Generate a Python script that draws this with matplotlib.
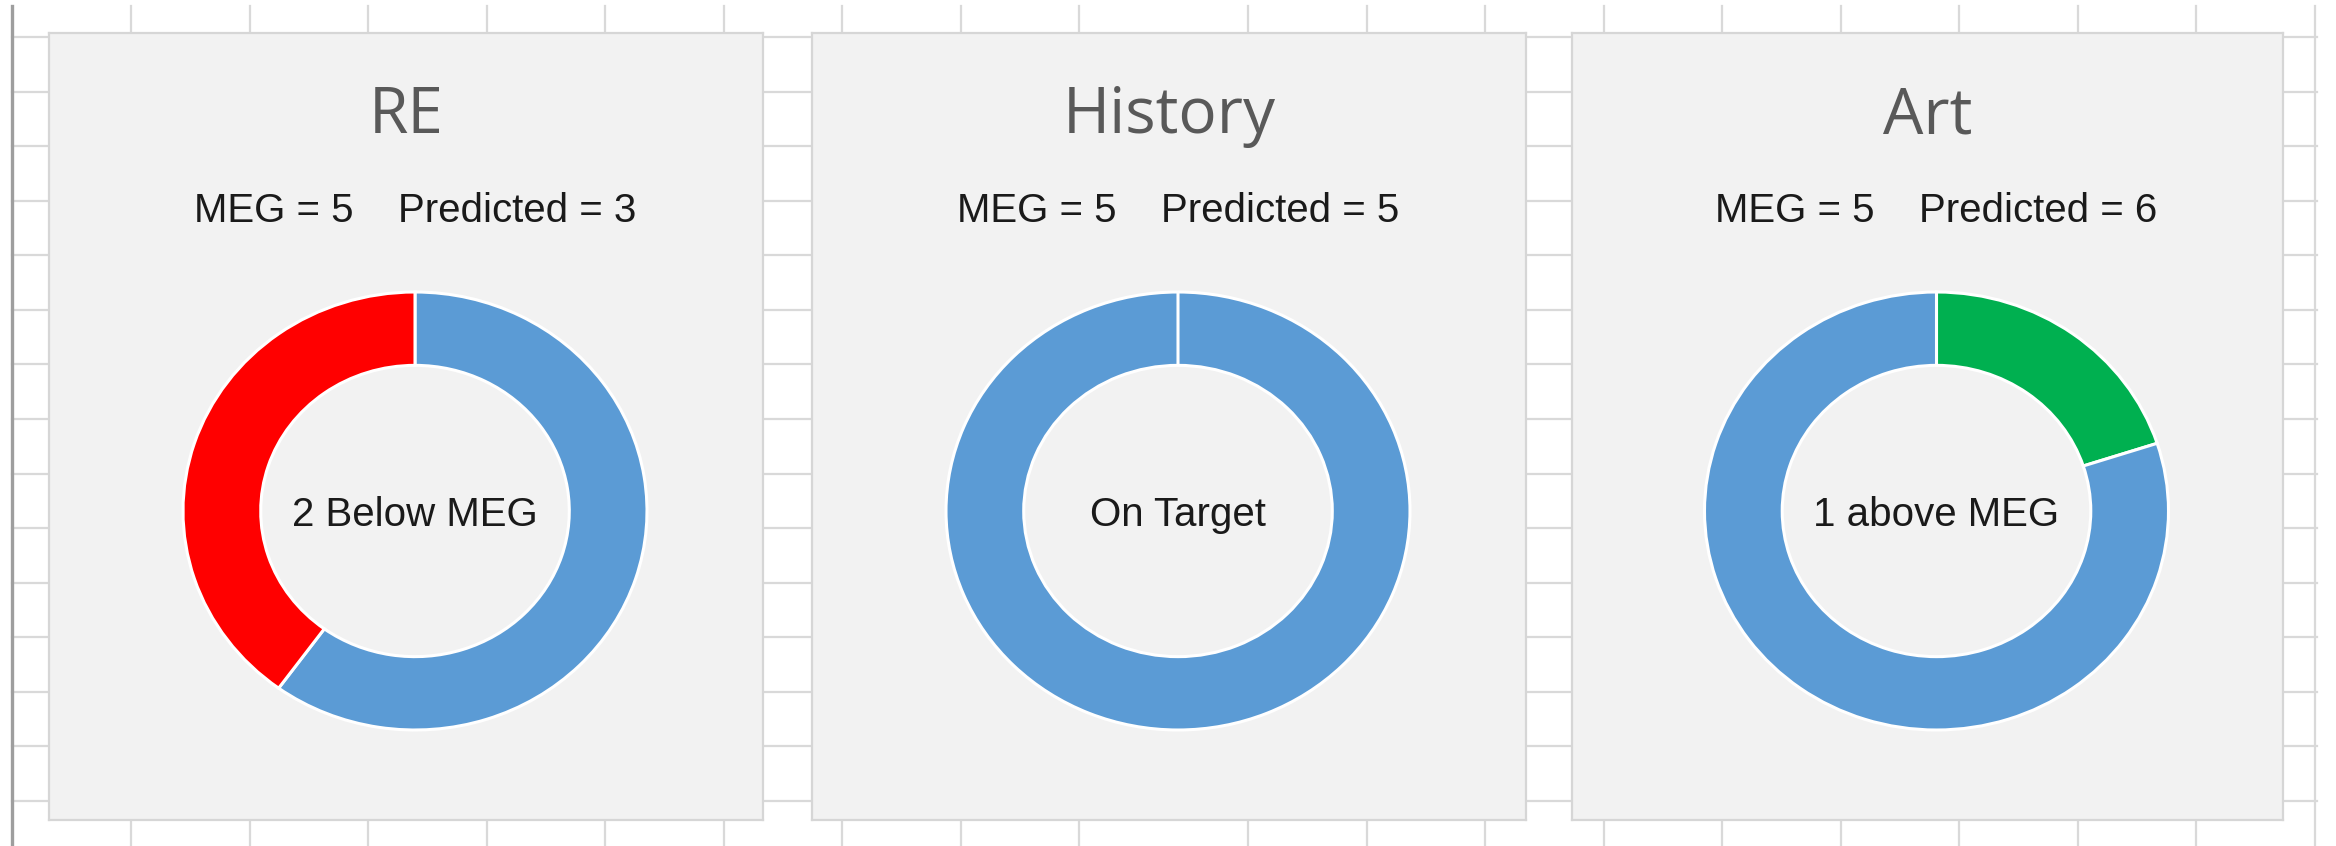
import matplotlib.pyplot as plt

# data
subjects = ['RE', 'History', 'Art']
meg = [5, 5, 5]
predicted = [3, 5, 6]
ring_values = [[3, 2], [5, 0], [1, 4]]
ring_colors = [['#5B9BD5', '#FF0000'], ['#5B9BD5', '#FF0000'], ['#00B050', '#5B9BD5']]
center_labels = ['2 Below MEG', 'On Target', '1 above MEG']

W, H = 2336, 846
fig = plt.figure(figsize=(W / 100, H / 100), dpi=100)
fig.patch.set_facecolor('white')


def box(x0, y0, x1, y1):
    # pixel box (top-left origin) -> figure fraction rect
    return [x0 / W, 1 - y1 / H, (x1 - x0) / W, (y1 - y0) / H]


# spreadsheet grid behind the charts
bg = fig.add_axes([0, 0, 1, 1])
bg.set_xlim(0, W)
bg.set_ylim(H, 0)
bg.axis('off')
cols = [131 + 118.5 * k for k in range(9)] + [1248 + 118.5 * k for k in range(10)]
for x in cols:
    bg.plot([x, x], [6, H], color='#D9D9D9', lw=1.6)
for k in range(15):
    y = 37 + 54.57 * k
    bg.plot([12, 2317], [y, y], color='#D9D9D9', lw=1.6)
bg.plot([12, 12], [6, H], color='#9E9E9E', lw=2.4)

panels = [(49, 763), (812, 1526), (1572, 2283)]
cy = 511
rx, ry = 232, 219

for i, name in enumerate(subjects):
    px0, px1 = panels[i]
    pan = fig.add_axes(box(px0, 33, px1, 820))
    pan.set_facecolor('#F2F2F2')
    pan.set_xticks([])
    pan.set_yticks([])
    for s in pan.spines.values():
        s.set_color('#D6D6D6')
        s.set_linewidth(1.6)

    pc = (px0 + px1) / 2
    cx = pc + 9
    fig.text(pc / W, 1 - 133 / H, name, ha='center', va='baseline',
             fontsize=46, color='#595959', family='Open Sans')
    fig.text(cx / W, 1 - 222 / H, 'MEG = %d    Predicted = %d' % (meg[i], predicted[i]),
             ha='center', va='baseline', fontsize=29, color='#1A1A1A', family='Liberation Sans')

    ax = fig.add_axes(box(cx - rx * 1.1, cy - ry * 1.1, cx + rx * 1.1, cy + ry * 1.1))
    ax.pie(ring_values[i], colors=ring_colors[i], startangle=90, counterclock=False,
           radius=1, wedgeprops=dict(width=0.335, edgecolor='white', linewidth=2.2))
    ax.set_aspect('auto')
    ax.set_xlim(-1.1, 1.1)
    ax.set_ylim(-1.1, 1.1)
    ax.axis('off')
    ax.text(0, -0.02, center_labels[i], ha='center', va='center',
            fontsize=29, color='#1A1A1A', family='Liberation Sans')

plt.savefig('out.png', dpi=100)
